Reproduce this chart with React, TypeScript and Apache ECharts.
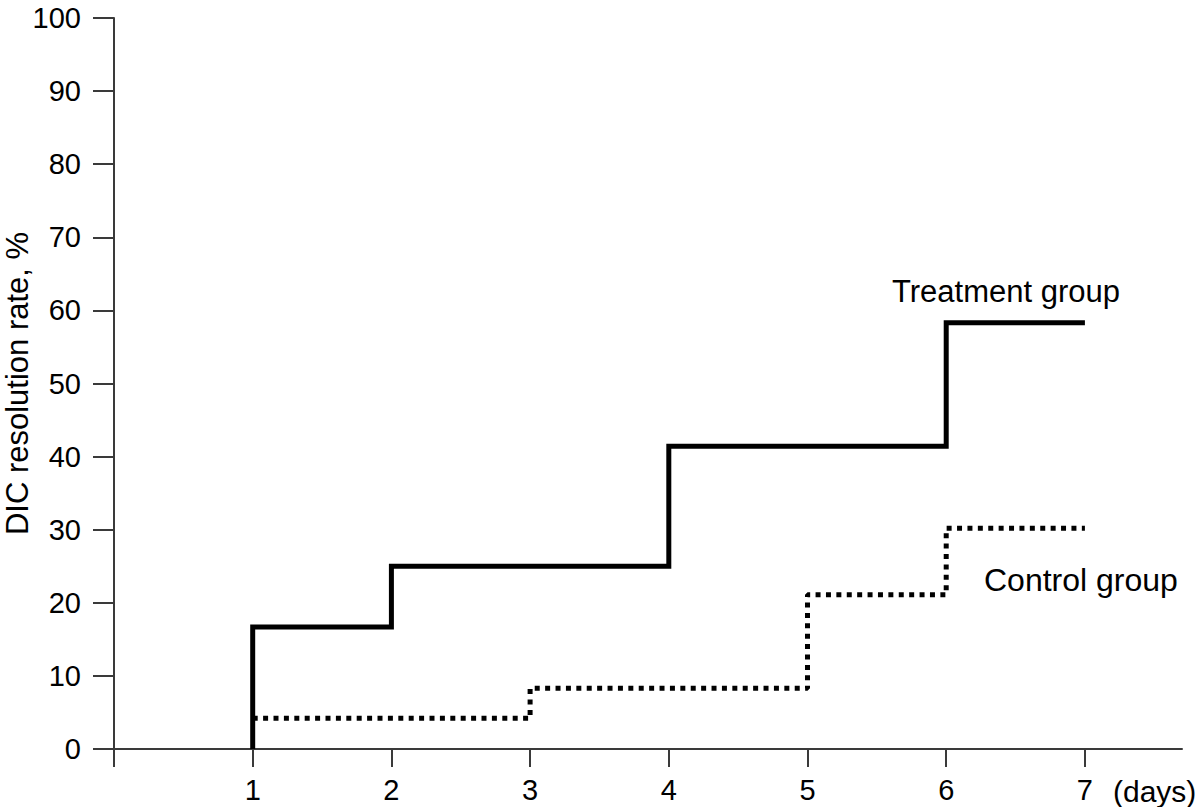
import React, { useEffect, useRef } from "react";
import * as echarts from "echarts";

const yTicks = [0, 10, 20, 30, 40, 50, 60, 70, 80, 90, 100];
const xTickValues = [0, 1, 2, 3, 4, 5, 6, 7];
const xLabelValues = [1, 2, 3, 4, 5, 6, 7];
const treatmentDays = [1, 1, 2, 4, 6, 7];
const treatmentRate = [0, 16.7, 25, 41.4, 58.3, 58.3];
const controlDays = [1, 3, 5, 6, 7];
const controlRate = [4.2, 8.3, 21.1, 30.2, 30.2];

const FONT = "'Liberation Sans', Arial, Helvetica, sans-serif";

export default function App() {
  const ref = useRef<HTMLDivElement>(null);
  useEffect(() => {
    document.body.style.margin = "0";
    const chart = echarts.init(ref.current!, null, { renderer: "svg" });
    chart.setOption({
      animation: false,
      backgroundColor: "#ffffff",
      textStyle: { fontFamily: FONT },
      grid: {
        left: 114,
        right: 18,
        top: 18,
        bottom: 58,
        containLabel: false,
        outerBoundsMode: "none",
      },
      xAxis: {
        type: "value",
        min: 0,
        max: 7.7,
        splitLine: { show: false },
        axisLine: { show: true, onZero: false, lineStyle: { color: "#3a3a3a", width: 2 } },
        axisTick: {
          show: true,
          length: 18,
          customValues: xTickValues,
          lineStyle: { color: "#3a3a3a", width: 2 },
        },
        axisLabel: {
          customValues: xLabelValues,
          fontSize: 29,
          color: "#000",
          margin: 26,
          fontFamily: FONT,
        },
      },
      yAxis: {
        type: "value",
        min: 0,
        max: 100,
        interval: 10,
        splitLine: { show: false },
        axisLine: { show: true, lineStyle: { color: "#3a3a3a", width: 2 } },
        axisTick: { show: true, length: 21, lineStyle: { color: "#3a3a3a", width: 2 } },
        axisLabel: { fontSize: 29, color: "#000", margin: 33, fontFamily: FONT },
        name: "DIC resolution rate, %",
        nameLocation: "middle",
        nameGap: 81,
        nameMoveOverlap: false,
        nameTextStyle: { fontSize: 31, color: "#000", fontFamily: FONT },
      },
      graphic: [
        {
          type: "text",
          x: 892,
          y: 291,
          style: {
            text: "Treatment group",
            fontSize: 31,
            fill: "#000",
            fontFamily: FONT,
            verticalAlign: "middle",
          },
        },
        {
          type: "text",
          x: 984,
          y: 580,
          style: {
            text: "Control group",
            fontSize: 32,
            fill: "#000",
            fontFamily: FONT,
            verticalAlign: "middle",
          },
        },
        {
          type: "text",
          x: 1113,
          y: 791,
          style: {
            text: "(days)",
            fontSize: 30,
            fill: "#000",
            fontFamily: FONT,
            verticalAlign: "middle",
          },
        },
      ],
      series: [
        {
          name: "Treatment group",
          type: "line",
          step: "end",
          symbol: "none",
          data: treatmentDays.map((d, i) => [d, treatmentRate[i]]),
          lineStyle: { color: "#000", width: 5, cap: "butt", join: "miter" },
        },
        {
          name: "Control group",
          type: "line",
          step: "end",
          symbol: "none",
          data: controlDays.map((d, i) => [d, controlRate[i]]),
          lineStyle: { color: "#000", width: 5, type: [5, 5.4], cap: "butt" },
        },
      ],
    });
    return () => chart.dispose();
  }, []);
  return <div ref={ref} style={{ width: 1200, height: 807 }} />;
}
